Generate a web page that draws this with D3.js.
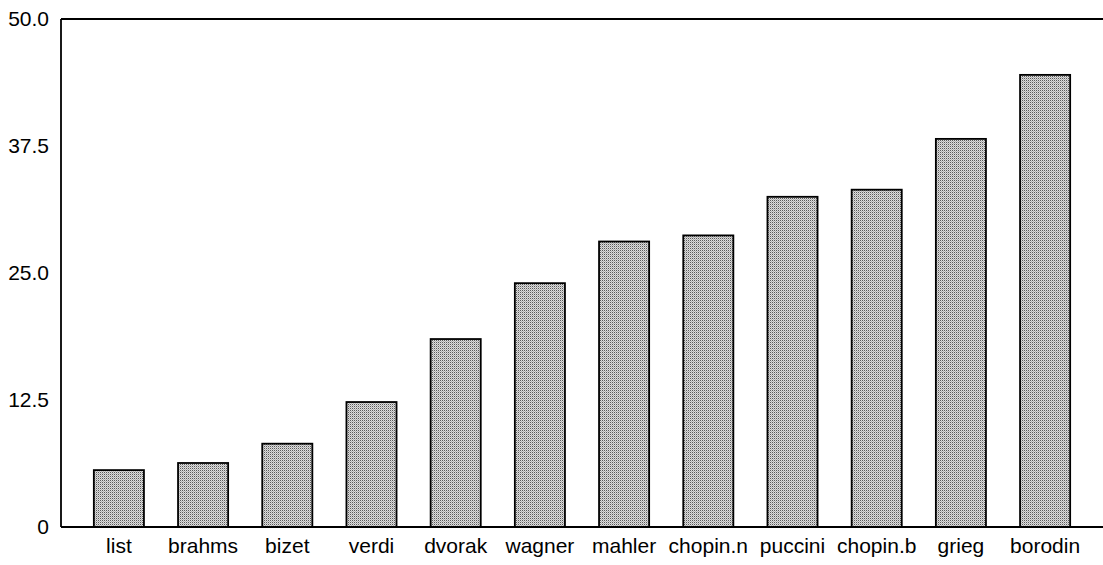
<!DOCTYPE html>
<html>
<head>
<meta charset="utf-8">
<script src="https://cdn.jsdelivr.net/npm/d3@7"></script>
<style>
  html, body { margin: 0; padding: 0; background: #fff; }
  svg { display: block; }
  text { font-family: "Liberation Sans", Arial, Helvetica, sans-serif; fill: #000; }
</style>
</head>
<body>
<svg id="chart" width="1103" height="565"></svg>
<script>
const categories = ["list", "brahms", "bizet", "verdi", "dvorak", "wagner", "mahler", "chopin.n", "puccini", "chopin.b", "grieg", "borodin"];
const values = [5.6, 6.3, 8.2, 12.3, 18.5, 24.0, 28.1, 28.7, 32.5, 33.2, 38.2, 44.5];
const yTickValues = [0, 12.5, 25, 37.5, 50];
const yTickLabels = ["0", "12.5", "25.0", "37.5", "50.0"];

const mLeft = 61, mRight = 1103, mTop = 19, mBottom = 527;

const svg = d3.select("#chart");

// stipple pattern
const defs = svg.append("defs");
const pat = defs.append("pattern")
  .attr("id", "stipple").attr("patternUnits", "userSpaceOnUse")
  .attr("width", 2).attr("height", 2);
pat.append("rect").attr("width", 2).attr("height", 2).attr("fill", "#dcdcdc");
pat.append("rect").attr("x", 0).attr("y", 0).attr("width", 1).attr("height", 1).attr("fill", "#5a5a5a");
pat.append("rect").attr("x", 1).attr("y", 1).attr("width", 1).attr("height", 1).attr("fill", "#b0b0b0");

const x = d3.scaleBand().domain(categories).range([mLeft, mRight])
  .paddingInner(0.405).paddingOuter(0.39);
const y = d3.scaleLinear().domain([0, 50]).range([mBottom, mTop]);

// bars
svg.append("g").selectAll("rect").data(categories).join("rect")
  .attr("x", d => x(d))
  .attr("y", (d, i) => y(values[i]))
  .attr("width", x.bandwidth())
  .attr("height", (d, i) => y(0) - y(values[i]))
  .attr("fill", "url(#stipple)")
  .attr("stroke", "#000")
  .attr("stroke-width", 1.8);

// frame lines
const frame = svg.append("g").attr("stroke", "#000").attr("stroke-width", 1.8).attr("fill", "none");
frame.append("line").attr("x1", mLeft).attr("x2", mLeft).attr("y1", y(50)).attr("y2", y(0));
frame.append("line").attr("x1", mLeft).attr("x2", mRight).attr("y1", y(50)).attr("y2", y(50));
frame.append("line").attr("x1", mLeft).attr("x2", mRight).attr("y1", y(0)).attr("y2", y(0));

// y axis
const yAxis = d3.axisLeft(y).tickValues(yTickValues)
  .tickFormat((d, i) => yTickLabels[i]).tickSize(0).tickPadding(12);
const gy = svg.append("g").attr("transform", `translate(${mLeft},0)`).call(yAxis);
gy.select(".domain").remove();
gy.selectAll("text").attr("font-size", 21).attr("font-family", "Liberation Sans, Arial, sans-serif").attr("fill", "#000");

// x axis
const xAxis = d3.axisBottom(x).tickSize(0).tickPadding(11);
const gx = svg.append("g").attr("transform", `translate(0,${mBottom})`).call(xAxis);
gx.select(".domain").remove();
gx.selectAll("text").attr("font-size", 21).attr("font-family", "Liberation Sans, Arial, sans-serif").attr("fill", "#000");
</script>
</body>
</html>
